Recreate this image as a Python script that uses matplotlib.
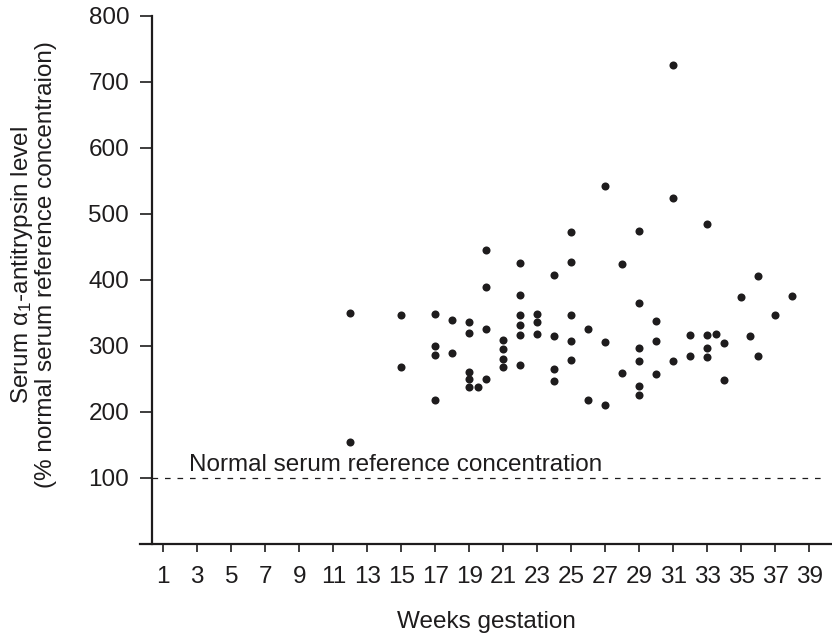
import matplotlib
matplotlib.use("Agg")
import matplotlib.pyplot as plt

plt.rcParams["font.family"] = ["Liberation Sans", "DejaVu Sans"]
plt.rcParams["mathtext.fontset"] = "custom"
plt.rcParams["mathtext.rm"] = "Liberation Sans"
plt.rcParams["mathtext.it"] = "Liberation Sans:italic"

# Serum alpha-1-antitrypsin level by week of gestation
weeks = [12, 12,
         15, 15,
         17, 17, 17, 17,
         18, 18,
         19, 19, 19, 19, 19, 19.5,
         20, 20, 20, 20,
         21, 21, 21, 21,
         22, 22, 22, 22, 22, 22,
         23, 23, 23,
         24, 24, 24, 24,
         25, 25, 25, 25, 25,
         26, 26,
         27, 27, 27,
         28, 28,
         29, 29, 29, 29, 29, 29,
         30, 30, 30,
         31, 31, 31,
         32, 32,
         33, 33, 33, 33, 33.5,
         34, 34,
         35, 35.5,
         36, 36,
         37, 38]
levels = [350, 155,
          347, 268,
          348, 300, 286, 218,
          339, 289,
          336, 319, 261, 250, 237, 238,
          445, 389, 326, 250,
          309, 295, 280, 268,
          426, 377, 347, 332, 317, 271,
          348, 336, 318,
          408, 315, 265, 247,
          473, 427, 347, 308, 279,
          326, 218,
          542, 306, 211,
          424, 259,
          474, 365, 297, 277, 239, 226,
          338, 308, 258,
          726, 524, 277,
          317, 285,
          485, 317, 297, 283, 318,
          305, 248,
          374, 315,
          406, 285,
          347, 376]

reference_level = 100
x_ticks = list(range(1, 40, 2))
y_ticks = list(range(100, 801, 100))

ink = "#1e1c1d"
fs = 17.5

fig = plt.figure(figsize=(8.32, 6.34), dpi=100)
ax = fig.add_axes([140 / 832, 90 / 634, 692 / 832, (544 - 15.7) / 634])

ax.plot(weeks, levels, "o", color=ink, markersize=5.8, markeredgewidth=0,
        clip_on=False, zorder=3)

ax.hlines(reference_level, 0.34, 39.75, colors=ink, linestyles=(0, (4.5, 5.5)),
          linewidth=0.9)
ax.text(2.5, reference_level + 10, "Normal serum reference concentration",
        fontsize=fs, color=ink, ha="left", va="baseline")

ax.set_xlim(-0.37, 40.33)
ax.set_ylim(0, 800)

for side in ("top", "right"):
    ax.spines[side].set_visible(False)
ax.spines["left"].set_position(("data", 0.34))
ax.spines["left"].set_bounds(0, 800)
for side in ("left", "bottom"):
    ax.spines[side].set_linewidth(1.6)
    ax.spines[side].set_color(ink)

ax.set_xticks(x_ticks)
ax.set_xticklabels([str(t) for t in x_ticks])
ax.set_yticks(y_ticks)
ax.set_yticklabels([str(t) for t in y_ticks])
ax.tick_params(axis="x", direction="out", length=5.5, width=1.2, pad=10,
               labelsize=fs, colors=ink)
ax.tick_params(axis="y", direction="out", length=8.5, width=1.2, pad=8,
               labelsize=fs, colors=ink)

ax.set_xlabel("Weeks gestation", fontsize=fs, color=ink, labelpad=17)
fig.text(33 / 832, 1 - 265 / 634,
         "Serum α$_1$-antitrypsin level\n(% normal serum reference concentraion)",
         rotation=90, ha="center", va="center", multialignment="center",
         fontsize=fs, color=ink, linespacing=1.05)

fig.savefig("out.png", dpi=100)
